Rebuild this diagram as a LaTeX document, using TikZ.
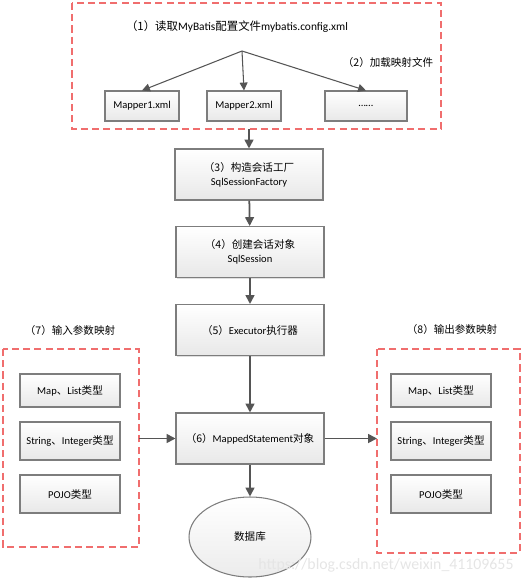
\documentclass[tikz,border=0pt]{standalone}
\usepackage{fontspec}
\setmainfont{Carlito}
\newfontfamily\cjk{Noto Sans CJK SC}
\usetikzlibrary{shapes,arrows.meta,positioning,shadows}
\definecolor{dashred}{RGB}{240,110,110}
\definecolor{boxline}{RGB}{125,125,125}
\definecolor{arrowgray}{RGB}{85,85,85}
\newcommand{\zh}[1]{{\cjk #1}}
\tikzset{
	stepbox/.style={draw=boxline, line width=0.6pt, top color=white, bottom color=gray!18,
		drop shadow={opacity=0.25, shadow xshift=0.7pt, shadow yshift=-0.7pt},
		minimum width=2.96cm, minimum height=1.02cm, align=center,
		font=\fontsize{6}{8}\selectfont, inner sep=1pt},
	mapbox/.style={stepbox, minimum width=1.48cm, minimum height=0.6cm},
	typebox/.style={stepbox, minimum width=2cm},
	groupbox/.style={draw=dashred, line width=1.1pt, dash pattern=on 4pt off 2.4pt},
	note/.style={font=\fontsize{6}{8}\selectfont},
	flow/.style={draw=arrowgray, line width=1pt, -{Triangle[width=5pt,length=5pt]}},
	branch/.style={draw=arrowgray, line width=0.6pt, -{Triangle[width=4.5pt,length=4.5pt]}}
}
\begin{document}
\begin{tikzpicture}[x=0.02cm, y=-0.02cm]
	\useasboundingbox (0,0) rectangle (524,583);
	
	% Mapper config group
	\draw[groupbox] (72,3) rectangle (441,129);
	\node[note, font=\fontsize{6.5}{8}\selectfont] (readcfg) at (237,27) {\zh{（1）读取}MyBatis\zh{配置文件}mybatis.config.xml};
	\node[note] (loadmap) at (388,62) {\zh{（2）加载映射文件}};
	\coordinate (fork) at (242,51);
	\node[mapbox] (mapper1) at (142,106) {Mapper1.xml};
	\node[mapbox] (mapper2) at (244,106) {Mapper2.xml};
	\node[mapbox, minimum width=1.64cm] (mapper3) at (366,106) {……};
	\foreach \m in {mapper1,mapper2,mapper3} {
		\draw[branch] (fork) -- (\m.north);
	}
	\coordinate (cfgbottom) at (249,129);
	
	% Main steps
	\node[stepbox] (factory) at (249,174.5) {\zh{（3）构造会话工厂}\\SqlSessionFactory};
	\node[stepbox] (session) at (250,252) {\zh{（4）创建会话对象}\\SqlSession};
	\node[stepbox] (executor) at (250,330) {\zh{（5）}Executor\zh{执行器}};
	\node[stepbox] (mapped) at (250,438.5) {\zh{（6）}MappedStatement\zh{对象}};
	\node[ellipse, draw=boxline, line width=0.6pt, top color=white, bottom color=gray!15,
		minimum width=2.44cm, minimum height=1.6cm, note] (db) at (250,537) {\zh{数据库}};
	
	\draw[flow] (cfgbottom) -- (factory);
	\draw[flow] (factory) -- (session);
	\draw[flow] (session) -- (executor);
	\draw[flow] (executor) -- (mapped);
	\draw[flow] (mapped) -- (db);
	
	% Parameter mapping groups
	\draw[groupbox] (3,349) rectangle (139,547);
	\draw[groupbox] (377,349) rectangle (520,553);
	\node[note] (inmap) at (70,330) {\zh{（7）输入参数映射}};
	\node[note] (outmap) at (452,329) {\zh{（8）输出参数映射}};
	\foreach \side/\x in {in/70, out/441} {
		\node[typebox, minimum height=0.66cm] (\side1) at (\x,390.5) {Map\zh{、}List\zh{类型}};
		\node[typebox, minimum height=0.76cm] (\side2) at (\x,441) {String\zh{、}Integer\zh{类型}};
		\node[typebox, minimum height=0.76cm] (\side3) at (\x,494) {POJO\zh{类型}};
	}
	\coordinate (inright) at (139,438.5);
	\coordinate (outleft) at (377,438.5);
	\draw[flow] (inright) -- (mapped);
	\draw[flow] (mapped) -- (outleft);
	
	% Watermark
	\node[font=\fontsize{9}{10}\selectfont, text=gray!20] (mark) at (386,565) {https://blog.csdn.net/weixin\_41109655};
\end{tikzpicture}
\end{document}
